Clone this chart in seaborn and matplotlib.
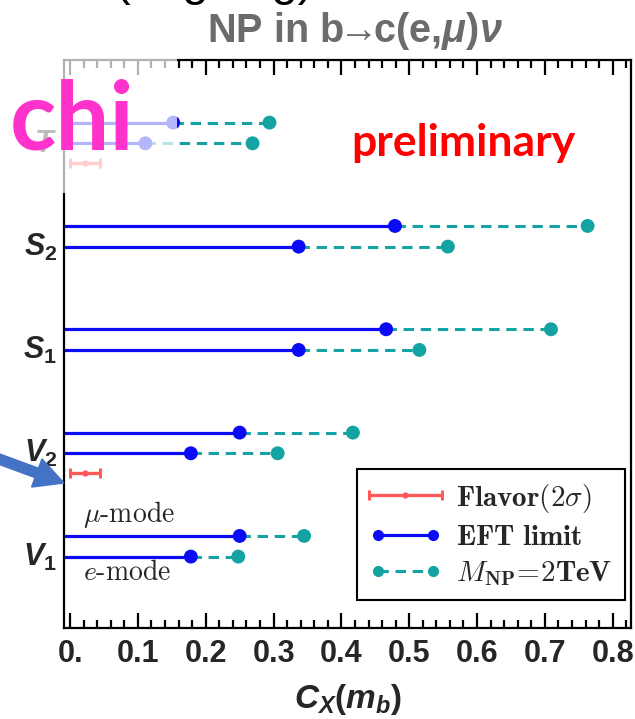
import numpy as np
import pandas as pd
import matplotlib
matplotlib.use("Agg")
import matplotlib.pyplot as plt
import seaborn as sns
from matplotlib.lines import Line2D
from matplotlib.patches import Rectangle, FancyArrow
from matplotlib.legend_handler import HandlerLine2D, HandlerErrorbar
from matplotlib.font_manager import FontProperties
from matplotlib.ticker import MultipleLocator
from matplotlib.transforms import IdentityTransform

# ---- data: Wilson-coefficient limits, rows from bottom to top ----
row_keys = ["V1", "V2", "S1", "S2", "T"]
row_labels = [r"$V_{\mathbf{1}}$", r"$V_{\mathbf{2}}$", r"$S_{\mathbf{1}}$",
              r"$S_{\mathbf{2}}$", r"$T$"]
eft_mu = [0.250, 0.250, 0.466, 0.479, 0.152]   # EFT limit, mu-mode
eft_e = [0.178, 0.178, 0.337, 0.337, 0.111]    # EFT limit, e-mode
mnp_mu = [0.345, 0.417, 0.709, 0.763, 0.294]   # M_NP = 2 TeV, mu-mode
mnp_e = [0.248, 0.306, 0.515, 0.557, 0.269]    # M_NP = 2 TeV, e-mode
flavor_rows = ["V2", "T"]
flavor_lo = [0.0, 0.0]
flavor_hi = [0.044, 0.044]
xticks = [0.0, 0.1, 0.2, 0.3, 0.4, 0.5, 0.6, 0.7, 0.8]
xtick_labels = ["0.", "0.1", "0.2", "0.3", "0.4", "0.5", "0.6", "0.7", "0.8"]

BLUE = "#0a0af5"
TEAL = "#14a3a3"
RED = "#ff5a5a"

sns.set_theme(style="ticks")
plt.rcParams["font.family"] = ["Liberation Sans", "DejaVu Sans"]
plt.rcParams["mathtext.fontset"] = "custom"
plt.rcParams["mathtext.it"] = "Liberation Sans:italic:bold"
plt.rcParams["mathtext.bf"] = "Liberation Sans:bold"
plt.rcParams["mathtext.rm"] = "Liberation Sans:bold"

fig = plt.figure(figsize=(6.35, 7.19), dpi=100)
ax = fig.add_axes([64 / 635, 91 / 719, 567 / 635, 568 / 719])

x_lo, x_hi = -0.009, 0.827
pos = np.arange(1, len(row_keys) + 1, dtype=float)
y_mu = pos + 0.10
y_e = pos - 0.10
flav_idx = [row_keys.index(k) for k in flavor_rows]
y_flav = pos[flav_idx] - 0.295

# EFT limits: solid segments from the axis
ax.hlines(np.r_[y_mu, y_e], x_lo, np.r_[eft_mu, eft_e], color=BLUE, lw=2.3, zorder=2)
# extension to M_NP = 2 TeV: dashed segments
ax.hlines(np.r_[y_mu, y_e], np.r_[eft_mu, eft_e], np.r_[mnp_mu, mnp_e],
          color=TEAL, lw=2.2, linestyles=[(0, (3.4, 2.2))], zorder=2)

dots = pd.DataFrame({
    "value": np.r_[mnp_mu, mnp_e, eft_mu, eft_e],
    "y": np.r_[y_mu, y_e, y_mu, y_e],
    "kind": ["MNP"] * 10 + ["EFT"] * 10,
})
sns.scatterplot(data=dots, x="value", y="y", hue="kind",
                palette={"EFT": BLUE, "MNP": TEAL}, s=100, linewidth=0,
                legend=False, ax=ax, zorder=3)

# flavour constraints (2 sigma)
fc = (np.array(flavor_lo) + np.array(flavor_hi)) / 2
fh = (np.array(flavor_hi) - np.array(flavor_lo)) / 2
h_flav = ax.errorbar(fc, y_flav, xerr=fh, fmt="o", ms=3.5, color=RED,
                     elinewidth=2.4, capsize=3.6, capthick=2.2, zorder=3)

ax.set_xlim(x_lo, x_hi)
ax.set_ylim(0.209, 5.706)
ax.set_xticks(xticks, xtick_labels)
ax.xaxis.set_minor_locator(MultipleLocator(0.02))
ax.set_yticks(pos - 0.07, row_labels)
ax.tick_params(axis="x", which="both", direction="in", top=True, bottom=True,
               width=1.6, color="black", labelsize=22, pad=8)
ax.tick_params(axis="x", which="major", length=11)
ax.tick_params(axis="x", which="minor", length=6)
ax.tick_params(axis="y", which="both", length=0, labelsize=22, pad=5)
for lab in ax.get_xticklabels():
    lab.set_fontweight("bold")
for sp in ax.spines.values():
    sp.set_visible(True)
    sp.set_linewidth(1.6)
    sp.set_color("black")
ax.set_xlabel(r"$C_X(m_b)$", fontsize=24, labelpad=9)
ax.set_ylabel("")

ax.text(0.019, 1.305, r"$\mu\text{-mode}$", fontsize=20, math_fontfamily="cm",
        ha="left", va="center")
ax.text(0.019, 0.744, r"$e\text{-mode}$", fontsize=20, math_fontfamily="cm",
        ha="left", va="center")

h_eft = Line2D([], [], color=BLUE, lw=2.3, marker="o", ms=7)
h_mnp = Line2D([], [], color=TEAL, lw=2.2, ls=(0, (3.4, 2.2)), marker="o", ms=7)
hl = 2.5
leg = ax.legend([h_flav, h_eft, h_mnp],
                [r"$\mathbf{Flavor(2}\sigma\mathbf{)}$", r"$\mathbf{EFT\ limit}$",
                 r"$M_{\mathbf{NP}}\!=\!\mathbf{2TeV}$"],
                handler_map={h_flav: HandlerErrorbar(xerr_size=hl / 2),
                             h_eft: HandlerLine2D(numpoints=2),
                             h_mnp: HandlerLine2D(numpoints=2)},
                loc="lower right", bbox_to_anchor=(0.989, 0.049), borderaxespad=0,
                frameon=True, fancybox=False, edgecolor="black", framealpha=1,
                prop=FontProperties(size=21, math_fontfamily="cm"),
                handlelength=hl, handletextpad=0.5, labelspacing=0.28,
                borderpad=0.42)
leg.get_frame().set_linewidth(1.5)

ax.text(0.705, 0.831, "preliminary", transform=ax.transAxes, family="Lato",
        fontweight="bold", fontsize=32, color="#ff0000", ha="center",
        va="baseline")

fig.text(355 / 635, 1 - 31 / 719, r"NP in b$\!\!\rightarrow\!\!$c(e,$\mu$)$\nu$",
         color="#6b6b6b", fontsize=28.5, fontweight="bold", ha="center",
         va="center")
fig.text(214 / 635, 1 + 5 / 719, "(ongoing)", color="black", fontsize=34,
         ha="center", va="baseline")

# translucent white box over the upper-left corner
fig.add_artist(Rectangle((0, 1 - 193 / 719), 177 / 635, 148 / 719,
                         transform=fig.transFigure, facecolor="white",
                         edgecolor="none", alpha=0.7, zorder=5))
fig.text(10 / 635, 1 - 150 / 719, "chi", family="Lato", fontweight="bold",
         fontsize=69, color="#ff33cc", ha="left", va="baseline", zorder=6)

# pointer arrow towards the flavour bound
fig.add_artist(FancyArrow(-20, 719 - 452, 84, -31, width=10, head_width=30,
                          head_length=29, length_includes_head=True,
                          color="#4472c4", transform=IdentityTransform(),
                          zorder=6))

fig.savefig("out.png", dpi=100)
